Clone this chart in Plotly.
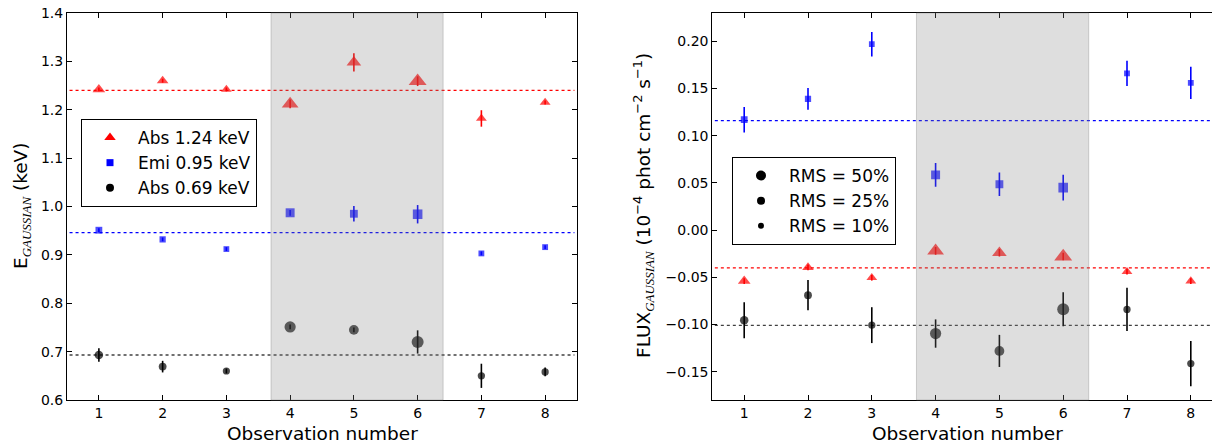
import plotly.graph_objects as go

# ---------------- data ----------------
obs = [1, 2, 3, 4, 5, 6, 7, 8]

# Left panel: line energies (keV)
E_abs124 = [1.242, 1.260, 1.242, 1.212, 1.298, 1.259, 1.182, 1.215]
E_abs124_err = [0.004, 0.004, 0.004, 0.009, 0.019, 0.010, 0.017, 0.004]
E_emi095 = [0.951, 0.932, 0.912, 0.987, 0.985, 0.984, 0.903, 0.916]
E_emi095_err = [0.004, 0.004, 0.004, 0.006, 0.016, 0.019, 0.004, 0.004]
E_abs069 = [0.693, 0.669, 0.660, 0.751, 0.745, 0.720, 0.650, 0.658]
E_abs069_err = [0.014, 0.012, 0.005, 0.005, 0.005, 0.024, 0.025, 0.009]
E_means = [1.240, 0.946, 0.693]
E_ticks = [0.6, 0.7, 0.8, 0.9, 1.0, 1.1, 1.2, 1.3, 1.4]

# Right panel: line fluxes (1e-4 phot cm^-2 s^-1)
F_emi095 = [0.117, 0.139, 0.197, 0.0585, 0.0486, 0.045, 0.166, 0.156]
F_emi095_err = [0.0135, 0.0115, 0.013, 0.0127, 0.0124, 0.0136, 0.0134, 0.017]
F_abs124 = [-0.054, -0.0395, -0.0505, -0.022, -0.024, -0.028, -0.044, -0.054]
F_abs124_err = [0.003, 0.003, 0.003, 0.004, 0.004, 0.004, 0.003, 0.003]
F_abs069 = [-0.0955, -0.069, -0.1007, -0.1096, -0.128, -0.0838, -0.084, -0.1414]
F_abs069_err = [0.019, 0.016, 0.019, 0.015, 0.017, 0.018, 0.023, 0.024]
F_means = [0.116, -0.040, -0.101]
F_ticks = [-0.15, -0.10, -0.05, 0.0, 0.05, 0.10, 0.15, 0.20]

shaded_obs = [3.7, 6.4]

left_labels = ["Abs 1.24 keV", "Emi 0.95 keV", "Abs 0.69 keV"]
rms_labels = ["RMS = 50%", "RMS = 25%", "RMS = 10%"]

# ---------------- style ----------------
circle_size = [8.5, 7.8, 7.2, 11.2, 9.8, 12.0, 7.3, 7.3]
square_size = [s * 0.8 for s in circle_size]
triangle_size = [s * 1.3 for s in circle_size]
rms_legend_size = [10, 8, 6]

RED, BLUE, BLACK = "#ff0000", "#0000ff", "#000000"
FONT = "DejaVu Sans"
PAGE_W, PAGE_H = 1220, 445
OFF = 8  # page body margin
W, H = PAGE_W - OFF, PAGE_H - OFF


def px(x):
    return (x - OFF) / W


def py(y):
    return 1 - (y - OFF) / H


fig = go.Figure()


def add_series(x, y, err, color, symbol, size, xa, ya):
    fig.add_trace(go.Scatter(
        x=x, y=y, mode="markers", xaxis=xa, yaxis=ya, showlegend=False,
        marker=dict(color=color, symbol=symbol, size=size, line=dict(width=0)),
        error_y=dict(type="data", array=err, visible=True, thickness=1.6,
                     width=0, color=color),
    ))


# left panel
add_series(obs, E_abs124, E_abs124_err, RED, "triangle-up", triangle_size, "x", "y")
add_series(obs, E_emi095, E_emi095_err, BLUE, "square", square_size, "x", "y")
add_series(obs, E_abs069, E_abs069_err, BLACK, "circle", circle_size, "x", "y")
# right panel
add_series(obs, F_emi095, F_emi095_err, BLUE, "square", square_size, "x2", "y2")
add_series(obs, F_abs124, F_abs124_err, RED, "triangle-up", triangle_size, "x2", "y2")
add_series(obs, F_abs069, F_abs069_err, BLACK, "circle", circle_size, "x2", "y2")

# legend-only traces
for i, (lab, col, sym, sz) in enumerate(zip(left_labels, [RED, BLUE, BLACK],
                                            ["triangle-up", "square", "circle"], [10, 7, 8])):
    fig.add_trace(go.Scatter(x=[None], y=[None], mode="markers", name=lab,
                             legendgroup=f"L{i}",
                             marker=dict(color=col, symbol=sym, size=sz),
                             xaxis="x", yaxis="y", legend="legend"))
for i, (lab, sz) in enumerate(zip(rms_labels, rms_legend_size)):
    fig.add_trace(go.Scatter(x=[None], y=[None], mode="markers", name=lab,
                             legendgroup=f"R{i}",
                             marker=dict(color=BLACK, symbol="circle", size=sz),
                             xaxis="x2", yaxis="y2", legend="legend2"))

shapes = []
for val, col in zip(E_means, [RED, BLUE, "rgba(0,0,0,0.75)"]):
    shapes.append(dict(type="line", xref="x domain", yref="y", x0=0.005, x1=0.995,
                       y0=val, y1=val, layer="below",
                       line=dict(color=col, width=1.3, dash="dot")))
for val, col in zip(F_means, [BLUE, RED, "rgba(0,0,0,0.75)"]):
    shapes.append(dict(type="line", xref="x2 domain", yref="y2", x0=0.005, x1=1,
                       y0=val, y1=val, layer="below",
                       line=dict(color=col, width=1.3, dash="dot")))
for xr, yr in [("x", "y domain"), ("x2", "y2 domain")]:
    shapes.append(dict(type="rect", xref=xr, yref=yr, x0=shaded_obs[0], x1=shaded_obs[1],
                       y0=0, y1=1, layer="above",
                       fillcolor="rgba(128,128,128,0.26)",
                       line=dict(color="rgba(128,128,128,0.35)", width=1)))

axis_common = dict(showgrid=False, zeroline=False, showline=True, linecolor="black",
                   linewidth=1, mirror="ticks", ticks="inside", ticklen=5,
                   tickcolor="black", tickwidth=1, ticklabeloverflow="allow",
                   tickfont=dict(family=FONT, size=14, color="black"), automargin=False)

x1_l, x1_r = px(67), px(577)
x2_l = px(712.3)
y_b, y_t = py(400), py(13)

legend_common = dict(xanchor="left", yanchor="top", bgcolor="white",
                     bordercolor="black", borderwidth=1,
                     font=dict(family=FONT, size=17, color="black"), itemwidth=46,
                     itemsizing="trace", tracegroupgap=0)

SUB = "<sub><span style=\"font-family:'Liberation Serif'\"><i>GAUSSIAN</i></span></sub>"

fig.update_layout(
    width=W, height=H, margin=dict(l=0, r=0, t=0, b=0),
    paper_bgcolor="white", plot_bgcolor="white",
    font=dict(family=FONT, color="black"),
    xaxis=dict(axis_common, domain=[x1_l, x1_r], range=[0.5, 8.5], dtick=1, tick0=1,
               anchor="y"),
    yaxis=dict(axis_common, domain=[y_b, y_t], range=[0.6, 1.4], tickmode="array",
               tickvals=E_ticks, ticktext=[f"{v:.1f}" for v in E_ticks], anchor="x"),
    xaxis2=dict(axis_common, domain=[x2_l, 1.0],
                range=[0.5, 0.5 + (PAGE_W - 712.3) / 63.8], dtick=1, tick0=1, anchor="y2"),
    yaxis2=dict(axis_common, domain=[y_b, y_t], range=[-0.18, 0.23], tickmode="array",
                tickvals=F_ticks,
                ticktext=[f"{v:.2f}".replace("-", "\u2212") for v in F_ticks], anchor="x2"),
    shapes=shapes,
    legend=dict(legend_common, x=px(81), y=py(119)),
    legend2=dict(legend_common, x=px(732), y=py(157)),
    annotations=[
        dict(text="E" + SUB + " (keV)", xref="paper", yref="paper",
             x=px(22), y=py(206), xanchor="center", yanchor="middle",
             textangle=-90, showarrow=False, font=dict(family=FONT, size=18.5)),
        dict(text="FLUX" + SUB + " (10<sup>\u22124</sup> phot cm<sup>\u22122</sup> s<sup>\u22121</sup>)",
             xref="paper", yref="paper",
             x=px(643), y=py(206), xanchor="center", yanchor="middle",
             textangle=-90, showarrow=False, font=dict(family=FONT, size=18.5)),
        dict(text="Observation number", xref="paper", yref="paper",
             x=px(322), y=py(433), xanchor="center", yanchor="middle",
             showarrow=False, font=dict(family=FONT, size=18.5)),
        dict(text="Observation number", xref="paper", yref="paper",
             x=px(967), y=py(433), xanchor="center", yanchor="middle",
             showarrow=False, font=dict(family=FONT, size=18.5)),
    ],
)

fig.write_html("out.html")
